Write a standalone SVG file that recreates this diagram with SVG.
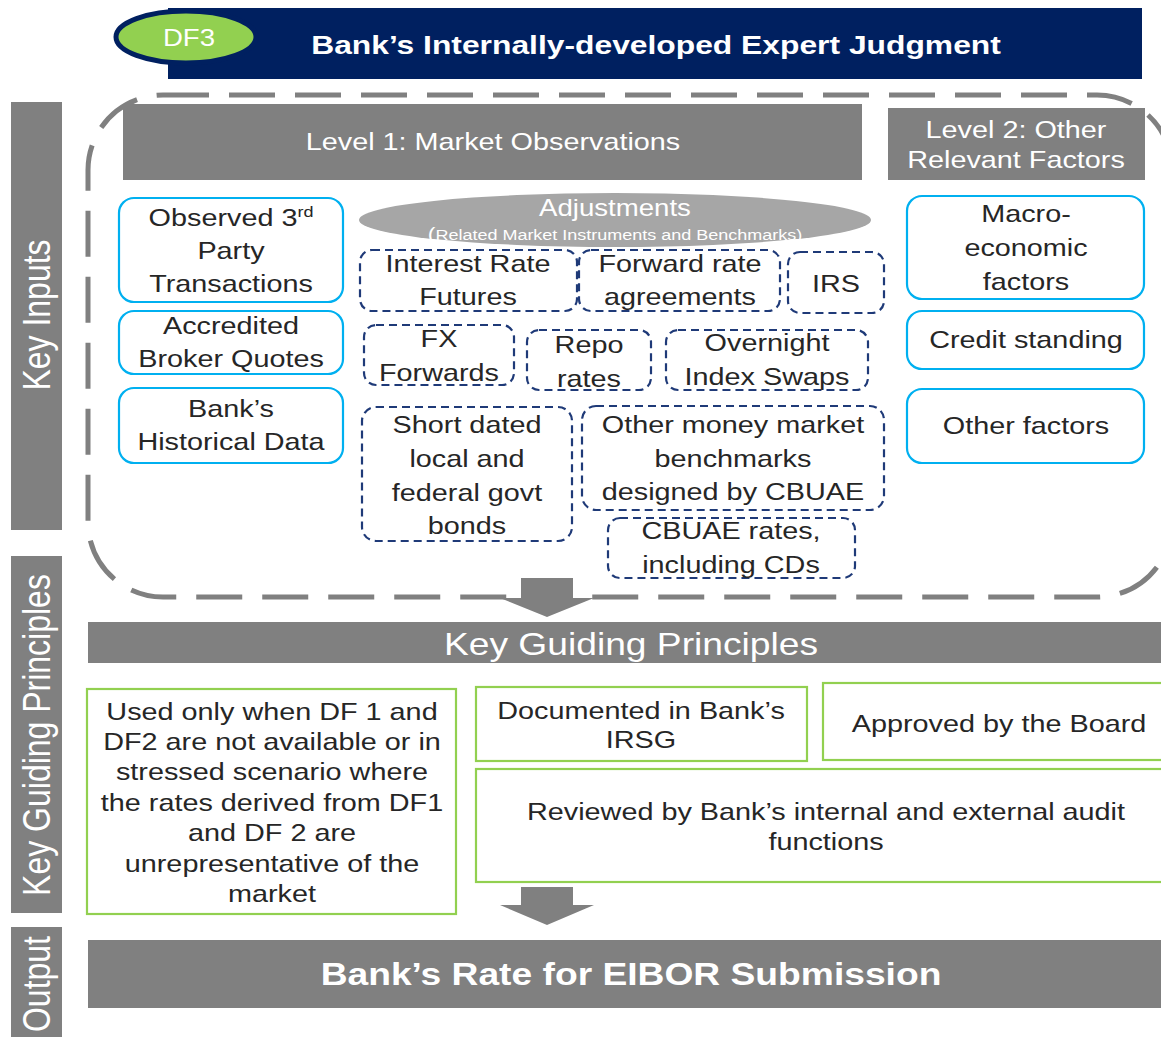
<svg xmlns="http://www.w3.org/2000/svg" width="1161" height="1037" viewBox="0 0 1161 1037">
<style>
text{font-family:"Liberation Sans",Arial,sans-serif;text-anchor:middle}
.t{font-size:24px;fill:#262626}
.w{fill:#ffffff}
.blue{fill:#ffffff;stroke:#00B0F0;stroke-width:2.2}
.nav{fill:#ffffff;stroke:#1F3A78;stroke-width:2.2;stroke-dasharray:8 5}
.grn{fill:#ffffff;stroke:#92D050;stroke-width:2.2}
.bar{fill:#808080}
.side{font-size:32px;fill:#ffffff}
</style>
<rect width="1161" height="1037" fill="#ffffff"/>

<!-- Title -->
<g id="title">
<rect x="168" y="8" width="974" height="71" fill="#002060"/>
<ellipse cx="186" cy="37" rx="70" ry="26" fill="#92D050" stroke="#002060" stroke-width="5"/>
<g transform="translate(189 0) scale(1.2 1)"><text x="0" y="46" class="w" style="font-size:23px">DF3</text></g>
<g transform="translate(656 0) scale(1.2 1)"><text x="0" y="54" class="w" style="font-size:26.5px;font-weight:bold">Bank’s Internally-developed Expert Judgment</text></g>
</g>

<!-- Side labels -->
<g id="side-key-inputs">
<rect x="11" y="102" width="51" height="428" class="bar"/>
<text class="side" transform="translate(50 315) scale(1.2 1) rotate(-90)">Key Inputs</text>
</g>
<g id="side-kgp">
<rect x="11" y="556" width="51" height="357" class="bar"/>
<text class="side" transform="translate(50 735) scale(1.2 1) rotate(-90)">Key Guiding Principles</text>
</g>
<g id="side-output">
<rect x="11" y="927" width="51" height="115" class="bar"/>
<text class="side" transform="translate(50 984) scale(1.2 1) rotate(-90)">Output</text>
</g>

<!-- Dashed container -->
<g id="container">
<rect x="88" y="95" width="1084" height="502" rx="75" ry="75" fill="none" stroke="#808080" stroke-width="5" stroke-dasharray="46 20"/>
</g>

<!-- Level headers -->
<g id="level1">
<rect x="123" y="104" width="739" height="76" class="bar"/>
<g transform="translate(493 0) scale(1.2 1)"><text x="0" y="150" class="w" style="font-size:24px">Level 1: Market Observations</text></g>
</g>
<g id="level2">
<rect x="888" y="108" width="257" height="72" class="bar"/>
<g transform="translate(1016 0) scale(1.2 1)">
<text x="0" y="138" class="w" style="font-size:24px">Level 2: Other</text>
<text x="0" y="168" class="w" style="font-size:24px">Relevant Factors</text>
</g>
</g>

<!-- Left blue boxes -->
<g id="observed">
<rect x="119" y="198" width="224" height="104" rx="15" class="blue"/>
<g transform="translate(231 0) scale(1.2 1)">
<text x="0" y="226" class="t">Observed 3<tspan style="font-size:15px" dy="-9">rd</tspan></text>
<text x="0" y="259" class="t">Party</text>
<text x="0" y="292" class="t">Transactions</text>
</g>
</g>
<g id="broker">
<rect x="119" y="311" width="224" height="63" rx="15" class="blue"/>
<g transform="translate(231 0) scale(1.2 1)">
<text x="0" y="334" class="t">Accredited</text>
<text x="0" y="367" class="t">Broker Quotes</text>
</g>
</g>
<g id="historical">
<rect x="119" y="388" width="224" height="75" rx="15" class="blue"/>
<g transform="translate(231 0) scale(1.2 1)">
<text x="0" y="417" class="t">Bank’s</text>
<text x="0" y="450" class="t">Historical Data</text>
</g>
</g>

<!-- Right blue boxes -->
<g id="macro">
<rect x="907" y="196" width="237" height="103" rx="15" class="blue"/>
<g transform="translate(1026 0) scale(1.2 1)">
<text x="0" y="222" class="t">Macro-</text>
<text x="0" y="256" class="t">economic</text>
<text x="0" y="290" class="t">factors</text>
</g>
</g>
<g id="credit">
<rect x="907" y="311" width="237" height="58" rx="15" class="blue"/>
<g transform="translate(1026 0) scale(1.2 1)"><text x="0" y="348" class="t">Credit standing</text></g>
</g>
<g id="otherfactors">
<rect x="907" y="389" width="237" height="74" rx="15" class="blue"/>
<g transform="translate(1026 0) scale(1.2 1)"><text x="0" y="434" class="t">Other factors</text></g>
</g>

<!-- Adjustments ellipse -->
<g id="adjustments">
<ellipse cx="615" cy="220" rx="256" ry="27" fill="#A6A6A6"/>
<g transform="translate(615 0) scale(1.2 1)">
<text x="0" y="216" class="w" style="font-size:23px">Adjustments</text>
<text x="0" y="240" class="w" style="font-size:15px"><tspan style="font-size:19px">(</tspan>Related Market Instruments and Benchmarks)</text>
</g>
</g>

<!-- Dashed navy boxes -->
<g id="irf">
<rect x="360" y="250" width="217" height="61" rx="12" class="nav"/>
<g transform="translate(468 0) scale(1.2 1)">
<text x="0" y="272" class="t">Interest Rate</text>
<text x="0" y="305" class="t">Futures</text>
</g>
</g>
<g id="fra">
<rect x="579" y="250" width="201" height="61" rx="12" class="nav"/>
<g transform="translate(680 0) scale(1.2 1)">
<text x="0" y="272" class="t">Forward rate</text>
<text x="0" y="305" class="t">agreements</text>
</g>
</g>
<g id="irs">
<rect x="788" y="252" width="96" height="61" rx="12" class="nav"/>
<g transform="translate(836 0) scale(1.2 1)"><text x="0" y="292" class="t">IRS</text></g>
</g>
<g id="fx">
<rect x="364" y="325" width="150" height="60" rx="12" class="nav"/>
<g transform="translate(439 0) scale(1.2 1)">
<text x="0" y="347" class="t">FX</text>
<text x="0" y="381" class="t">Forwards</text>
</g>
</g>
<g id="repo">
<rect x="527" y="330" width="124" height="60" rx="12" class="nav"/>
<g transform="translate(589 0) scale(1.2 1)">
<text x="0" y="353" class="t">Repo</text>
<text x="0" y="387" class="t">rates</text>
</g>
</g>
<g id="ois">
<rect x="666" y="330" width="202" height="60" rx="12" class="nav"/>
<g transform="translate(767 0) scale(1.2 1)">
<text x="0" y="351" class="t">Overnight</text>
<text x="0" y="385" class="t">Index Swaps</text>
</g>
</g>
<g id="govt">
<rect x="362" y="407" width="210" height="134" rx="14" class="nav"/>
<g transform="translate(467 0) scale(1.2 1)">
<text x="0" y="433" class="t">Short dated</text>
<text x="0" y="467" class="t">local and</text>
<text x="0" y="501" class="t">federal govt</text>
<text x="0" y="534" class="t">bonds</text>
</g>
</g>
<g id="othermm">
<rect x="582" y="406" width="302" height="104" rx="14" class="nav"/>
<g transform="translate(733 0) scale(1.2 1)">
<text x="0" y="433" class="t">Other money market</text>
<text x="0" y="467" class="t">benchmarks</text>
<text x="0" y="500" class="t">designed by CBUAE</text>
</g>
</g>
<g id="cbuae">
<rect x="608" y="518" width="247" height="60" rx="12" class="nav"/>
<g transform="translate(731 0) scale(1.2 1)">
<text x="0" y="539" class="t">CBUAE rates,</text>
<text x="0" y="573" class="t">including CDs</text>
</g>
</g>

<!-- Key Guiding Principles bar -->
<g id="kgp-bar">
<rect x="88" y="622" width="1080" height="41" class="bar"/>
<g transform="translate(631 0) scale(1.2 1)"><text x="0" y="655" class="w" style="font-size:31px">Key Guiding Principles</text></g>
</g>

<!-- Green boxes -->
<g id="usedonly">
<rect x="87" y="689" width="369" height="225" class="grn"/>
<g transform="translate(272 0) scale(1.2 1)">
<text x="0" y="720" class="t">Used only when DF 1 and</text>
<text x="0" y="750" class="t">DF2 are not available or in</text>
<text x="0" y="780" class="t">stressed scenario where</text>
<text x="0" y="811" class="t">the rates derived from DF1</text>
<text x="0" y="841" class="t">and DF 2 are</text>
<text x="0" y="872" class="t">unrepresentative of the</text>
<text x="0" y="902" class="t">market</text>
</g>
</g>
<g id="documented">
<rect x="476" y="687" width="331" height="74" class="grn"/>
<g transform="translate(641 0) scale(1.2 1)">
<text x="0" y="719" class="t">Documented in Bank’s</text>
<text x="0" y="748" class="t">IRSG</text>
</g>
</g>
<g id="approved">
<rect x="823" y="683" width="345" height="77" class="grn"/>
<g transform="translate(999 0) scale(1.2 1)"><text x="0" y="732" class="t">Approved by the Board</text></g>
</g>
<g id="reviewed">
<rect x="476" y="769" width="692" height="113" class="grn"/>
<g transform="translate(826 0) scale(1.2 1)">
<text x="0" y="820" class="t">Reviewed by Bank’s internal and external audit</text>
<text x="0" y="850" class="t">functions</text>
</g>
</g>

<!-- Output bar -->
<g id="output-bar">
<rect x="88" y="940" width="1080" height="68" class="bar"/>
<g transform="translate(631 0) scale(1.2 1)"><text x="0" y="985" class="w" style="font-size:31px;font-weight:bold">Bank’s Rate for EIBOR Submission</text></g>
</g>

<!-- Connectors -->
<g id="connectors" fill="#808080">
<polygon points="521,578 573,578 573,598 594,598 547,617 500,598 521,598"/>
<polygon points="521,887 573,887 573,905 594,905 547,925 500,905 521,905"/>
</g>
</svg>
